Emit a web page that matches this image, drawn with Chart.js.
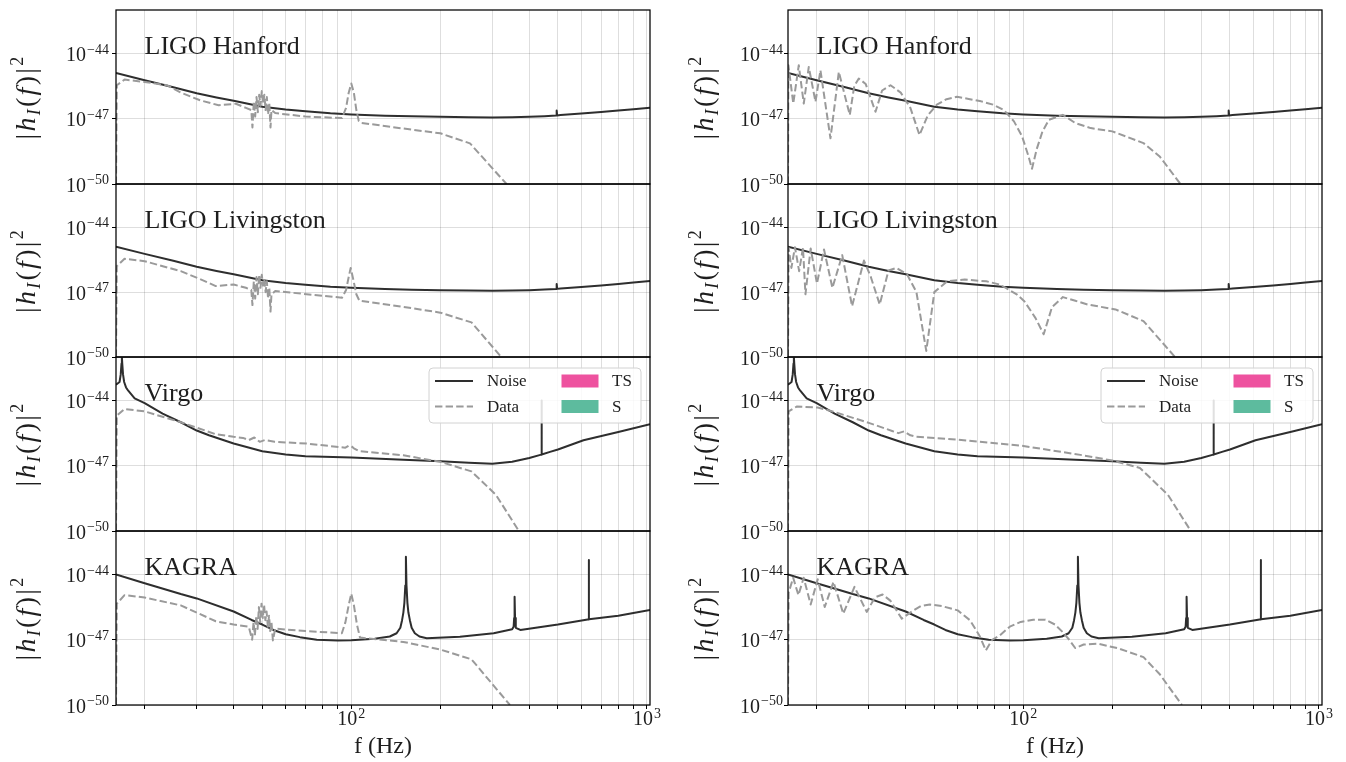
<!DOCTYPE html>
<html>
<head>
<meta charset="utf-8">
<title>Detector noise and data</title>
<script src="https://cdn.jsdelivr.net/npm/chart.js@4.4.1/dist/chart.umd.min.js"></script>
<style>
    body { margin: 0; background: #fff; width: 1346px; height: 762px; overflow: hidden; position: relative; }
    canvas { position: absolute; }
</style>
</head>
<body>
<script>
// axis ranges and ticks
const fMin = 16, fMax = 1024;
const yMinExp = -50, yMaxExp = -42;
const yTickExps = [-50, -47, -44];
const xTickFreqs = [20, 30, 40, 50, 60, 70, 80, 90, 100, 200, 300, 400, 500, 600, 700, 800, 900, 1000];
const detectors = ['LIGO Hanford', 'LIGO Livingston', 'Virgo', 'KAGRA'];
const legendLines = ['Noise', 'Data'];
const legendBoxes = ['TS', 'S'];

// noise curves (frequency in Hz, log10 |h|^2)
const ligoNoiseF = [16, 20, 25, 30, 35, 40, 50, 60, 70, 85, 100, 130, 160, 200, 250, 300, 350, 400, 450, 493, 495, 497, 510, 600, 700, 800, 900, 1024];
const ligoNoise = [-44.9, -45.23, -45.55, -45.83, -46.02, -46.17, -46.45, -46.58, -46.66, -46.75, -46.8, -46.86, -46.89, -46.91, -46.93, -46.94, -46.93, -46.91, -46.88, -46.85, -46.62, -46.85, -46.83, -46.76, -46.69, -46.62, -46.56, -46.49];

const virgoNoiseF = [16, 16.45, 16.6, 16.7, 16.75, 16.8, 16.9, 17.05, 17.3, 17.6, 18.5, 20, 23, 26.5, 30, 33, 40, 50, 60, 70, 100, 150, 200, 250, 300, 350, 400, 439, 440, 441, 470, 500, 610, 800, 1024];
const virgoNoise = [-43.27, -43.15, -42.8, -42.3, -42.0, -42.3, -42.8, -43.15, -43.4, -43.55, -43.9, -44.12, -44.6, -45.0, -45.38, -45.6, -45.98, -46.33, -46.48, -46.56, -46.62, -46.72, -46.79, -46.86, -46.91, -46.82, -46.64, -46.49, -44.0, -46.48, -46.36, -46.25, -45.83, -45.45, -45.09];

const kagraNoiseF = [16, 20, 26.5, 30, 40, 46, 50, 54.5, 60, 67, 76.4, 90, 100, 120, 135, 142.3, 146.5, 148.5, 150, 151.2, 152.3, 153, 153.7, 154.8, 156, 157.8, 160, 164, 170, 180, 233, 303, 350, 354, 355.5, 356.7, 358, 360, 373, 500, 630, 635.5, 636, 636.5, 800, 1024];
const kagraNoise = [-44.0, -44.4, -44.9, -45.1, -45.7, -46.09, -46.3, -46.55, -46.75, -46.88, -47.0, -47.03, -47.02, -46.95, -46.85, -46.7, -46.45, -46.1, -45.75, -45.3, -44.5, -43.18, -44.5, -45.3, -45.75, -46.1, -46.45, -46.7, -46.85, -46.93, -46.86, -46.7, -46.52, -46.4, -46.0, -45.02, -46.0, -46.45, -46.55, -46.3, -46.07, -46.07, -43.33, -46.06, -45.9, -45.63];

// data, left column
const h1DataF = [16, 16.1, 17.1, 20, 23.8, 26.5, 30.8, 35.6, 40.7, 44, 45.9, 46.3, 46.8, 47.3, 47.8, 48.3, 48.8, 49.3, 49.8, 50.3, 50.8, 51.3, 51.8, 52.3, 52.8, 53.3, 53.7, 55.3, 70, 93, 96, 98, 100, 102, 104, 106, 108, 150, 200, 252, 335];
const h1Data = [-50, -45.46, -45.2, -45.31, -45.46, -45.8, -46.15, -46.38, -46.31, -46.5, -46.6, -47.4, -46.2, -46.9, -46.0, -46.7, -45.9, -46.4, -45.73, -46.3, -45.9, -46.6, -46.0, -46.8, -46.3, -47.4, -46.6, -46.74, -46.9, -46.97, -46.5, -45.8, -45.38, -45.8, -46.6, -47.1, -47.19, -47.45, -47.67, -48.13, -50];

const l1DataF = [16, 16.1, 17.1, 20, 26.5, 30.8, 34.8, 40, 44, 45.9, 46.3, 46.8, 47.3, 47.8, 48.3, 48.8, 49.3, 49.8, 50.3, 50.8, 51.3, 51.8, 52.3, 52.8, 53.3, 53.7, 55.3, 93, 96, 98, 99.5, 101.5, 104, 106.5, 150, 200, 255, 321.5];
const l1Data = [-50, -45.8, -45.46, -45.57, -46.03, -46.4, -46.72, -46.65, -46.8, -46.9, -47.6, -46.5, -47.3, -46.3, -47.1, -46.2, -46.8, -46.2, -46.7, -46.4, -47.0, -46.5, -47.3, -46.8, -47.9, -47.1, -46.95, -47.26, -46.9, -46.3, -45.88, -46.4, -47.1, -47.4, -47.68, -47.95, -48.4, -50];

const v1DataF = [16, 16.1, 17.1, 20, 26.5, 34.8, 40, 43, 45, 47, 49, 51, 55, 70.7, 95.5, 98, 100, 102, 106.5, 150, 200, 255, 308.6, 368.6];
const v1Data = [-50, -44.7, -44.39, -44.5, -45.0, -45.55, -45.67, -45.72, -45.82, -45.7, -45.9, -45.82, -45.9, -45.98, -46.17, -46.08, -46.1, -46.2, -46.33, -46.52, -46.82, -47.26, -48.34, -50];

const k1DataF = [16, 16.1, 17.1, 20, 26.5, 34.8, 40, 45, 46.2, 46.7, 47.2, 47.7, 48.2, 48.7, 49.2, 49.7, 50.2, 50.7, 51.2, 51.7, 52.2, 52.7, 53.2, 53.7, 54.3, 55.3, 70, 92.9, 95.5, 98, 100, 102, 104.5, 107, 150, 200, 255, 344];
const k1Data = [-50, -45.34, -44.95, -45.06, -45.42, -46.15, -46.3, -46.4, -47.0, -46.2, -46.8, -45.9, -46.5, -45.5, -46.2, -45.34, -46.0, -45.4, -46.1, -45.7, -46.4, -45.9, -46.6, -46.2, -47.03, -46.49, -46.6, -46.7, -46.2, -45.4, -44.88, -45.4, -46.3, -46.9, -47.1, -47.45, -47.9, -50];

// data, right column
const h2DataF = [16, 16.05, 16.67, 17.4, 18.09, 18.81, 19.82, 20.6, 22.27, 23.77, 25.89, 26.8, 27.77, 29.3, 31.63, 33.3, 35.55, 38.5, 41.5, 44.55, 47.5, 51, 55, 59.7, 66, 72, 79, 86, 93, 99, 104, 107, 111, 116, 122, 136, 150, 169, 200, 255, 290, 340];
const h2Data = [-50, -44.54, -46.3, -44.54, -46.3, -44.62, -46.22, -44.77, -47.9, -44.85, -46.83, -45.5, -45.15, -45.4, -46.68, -45.7, -45.46, -45.8, -46.5, -47.75, -46.85, -46.35, -46.1, -45.99, -46.1, -46.2, -46.35, -46.6, -47.12, -47.8, -48.7, -49.3, -48.4, -47.6, -47.05, -46.82, -47.2, -47.43, -47.58, -48.12, -48.75, -50];

const l2DataF = [16, 16.08, 16.43, 16.89, 17.45, 17.98, 18.33, 19.09, 20.05, 21.18, 22.61, 24.41, 26.35, 28.91, 30.5, 32.68, 35, 37.26, 40.44, 43.5, 46.97, 50, 55.3, 63.4, 75, 83.3, 95, 100.8, 110, 117.2, 125, 136.1, 150, 164.8, 205, 255, 326];
const l2Data = [-50, -44.95, -45.88, -44.92, -46.03, -44.95, -47.1, -44.98, -46.6, -45.03, -46.8, -45.29, -47.65, -45.54, -46.3, -47.57, -46.0, -45.88, -46.18, -47.0, -49.72, -47.0, -46.5, -46.42, -46.5, -46.65, -47.1, -47.42, -48.2, -48.95, -47.7, -47.23, -47.4, -47.57, -47.8, -48.34, -50];

const v2DataF = [16, 16.08, 17.12, 20.16, 23.12, 30.36, 36, 37.8, 39.5, 41.5, 43.3, 60, 100, 156, 200, 248, 308.6, 368.6];
const v2Data = [-50, -44.5, -44.28, -44.32, -44.54, -45.05, -45.4, -45.5, -45.42, -45.6, -45.66, -45.8, -46.09, -46.5, -46.76, -47.1, -48.34, -50];

const k2DataF = [16, 16.08, 16.66, 17.35, 18.08, 19.09, 20.16, 21.3, 22.8, 24.61, 26.85, 29.54, 31.5, 33.41, 35.5, 38.81, 42, 45, 48.3, 53, 60, 66, 71, 74.7, 78.5, 83.3, 90, 98, 108, 118.8, 128, 136, 143, 149.8, 160, 178.8, 210, 255, 290, 344];
const k2Data = [-50, -44.83, -44.15, -44.95, -44.15, -45.38, -44.22, -45.49, -44.34, -45.8, -44.57, -45.72, -45.05, -44.92, -45.2, -46.03, -45.7, -45.45, -45.38, -45.45, -45.65, -46.1, -46.8, -47.49, -47.0, -46.8, -46.4, -46.18, -46.08, -46.08, -46.3, -46.65, -47.0, -47.38, -47.22, -47.18, -47.4, -47.8, -48.6, -50];

const noiseSeries = [[ligoNoiseF, ligoNoise], [ligoNoiseF, ligoNoise], [virgoNoiseF, virgoNoise], [kagraNoiseF, kagraNoise]];
const dataSeries = [
    [[h1DataF, h1Data], [l1DataF, l1Data], [v1DataF, v1Data], [k1DataF, k1Data]],
    [[h2DataF, h2Data], [l2DataF, l2Data], [v2DataF, v2Data], [k2DataF, k2Data]]
];

// look
const serif = "'Liberation Serif', 'DejaVu Serif', serif";
const noiseColor = '#2e2e2e';
const dataColor = '#9a9a9a';
const gridColor = 'rgba(0,0,0,0.13)';
const tsColor = '#ee529f';
const sColor = '#5dbb9e';
const textColor = '#1e1e1e';

// layout (page pixels)
const columnLeft = [116, 788];
const plotWidth = 534;
const panelTop = [10, 184, 357, 531];
const panelHeight = [174, 173, 174, 174];
const axisWidth = 116;
const tickGap = [7, 5];
const titleOffset = [81, 75];

Chart.defaults.font.family = serif;

function toPoints(f, e) {
    return f.map((x, i) => ({ x: x, y: Math.pow(10, e[i]) }));
}

// "10" with a raised exponent
function powerLabel(ctx, exp, x, y, align) {
    const sup = String(exp).replace('-', '\u2212');
    ctx.font = '20px ' + serif;
    const wb = ctx.measureText('10').width;
    ctx.font = '14px ' + serif;
    const ws = ctx.measureText(sup).width;
    const total = wb + 1 + ws;
    const x0 = align === 'right' ? x - total : x - total / 2;
    ctx.textAlign = 'left';
    ctx.textBaseline = 'alphabetic';
    ctx.font = '20px ' + serif;
    ctx.fillText('10', x0, y);
    ctx.font = '14px ' + serif;
    ctx.fillText(sup, x0 + wb + 1, y - 7.5);
}

// |h_I(f)|^2, rotated
function drawYTitle(ctx, x, y) {
    const parts = [
        ['|', 0, 28, false], ['h', 0, 28, true], ['I', 5, 18, true], ['(', 0, 28, false],
        ['f', 0, 28, true], [')', 0, 28, false], ['|', 0, 28, false], ['2', -12, 18, false]
    ];
    const gap = 2.3;
    ctx.save();
    ctx.translate(x, y);
    ctx.rotate(-Math.PI / 2);
    ctx.textAlign = 'left';
    ctx.textBaseline = 'alphabetic';
    let total = 0;
    parts.forEach(p => {
        ctx.font = (p[3] ? 'italic ' : '') + p[2] + 'px ' + serif;
        total += ctx.measureText(p[0]).width + gap;
    });
    let cx = -total / 2;
    parts.forEach(p => {
        ctx.font = (p[3] ? 'italic ' : '') + p[2] + 'px ' + serif;
        ctx.fillText(p[0], cx, p[1]);
        cx += ctx.measureText(p[0]).width + gap;
    });
    ctx.restore();
}

function drawLegend(ctx, a) {
    const x0 = a.left + 313, y0 = a.top + 11, w = 212, h = 55;
    ctx.fillStyle = 'rgba(255,255,255,0.85)';
    ctx.strokeStyle = '#d2d2d2';
    ctx.lineWidth = 1;
    ctx.beginPath();
    ctx.roundRect(x0, y0, w, h, 4);
    ctx.fill();
    ctx.stroke();

    const rows = [y0 + 13, y0 + 38.5];
    ctx.lineWidth = 2;
    ctx.strokeStyle = noiseColor;
    ctx.setLineDash([]);
    ctx.beginPath(); ctx.moveTo(x0 + 6, rows[0]); ctx.lineTo(x0 + 44, rows[0]); ctx.stroke();
    ctx.strokeStyle = dataColor;
    ctx.setLineDash([7.4, 3.2]);
    ctx.beginPath(); ctx.moveTo(x0 + 6, rows[1]); ctx.lineTo(x0 + 44, rows[1]); ctx.stroke();
    ctx.setLineDash([]);

    ctx.fillStyle = tsColor;
    ctx.fillRect(x0 + 132.5, rows[0] - 6.5, 37, 13);
    ctx.fillStyle = sColor;
    ctx.fillRect(x0 + 132.5, rows[1] - 6.5, 37, 13);

    ctx.fillStyle = textColor;
    ctx.font = '17px ' + serif;
    ctx.textAlign = 'left';
    ctx.textBaseline = 'middle';
    legendLines.forEach((t, i) => ctx.fillText(t, x0 + 58, rows[i] + 1));
    legendBoxes.forEach((t, i) => ctx.fillText(t, x0 + 183, rows[i] + 1));
}

function decor(col, row) {
    return {
        id: 'decor',
        afterDraw(chart) {
            const ctx = chart.ctx;
            const a = chart.chartArea;
            const xs = chart.scales.x, ys = chart.scales.y;
            ctx.save();
            ctx.strokeStyle = '#000';
            ctx.lineWidth = 1.25;
            ctx.strokeRect(a.left, a.top, a.right - a.left, a.bottom - a.top);

            ctx.fillStyle = textColor;
            ys.ticks.forEach(t => {
                const y = ys.getPixelForValue(t.value);
                powerLabel(ctx, Math.round(Math.log10(t.value)), a.left - tickGap[col], y + 7.5, 'right');
            });

            ctx.font = '26px ' + serif;
            ctx.textAlign = 'left';
            ctx.textBaseline = 'alphabetic';
            ctx.fillText(detectors[row], a.left + 28.5, a.top + 44);

            drawYTitle(ctx, a.left - titleOffset[col], (a.top + a.bottom) / 2);

            if (row === 2) drawLegend(ctx, a);

            if (row === 3) {
                ctx.fillStyle = textColor;
                xs.ticks.forEach(t => {
                    const e = Math.log10(t.value);
                    if (Math.abs(e - Math.round(e)) < 1e-9) {
                        powerLabel(ctx, Math.round(e), xs.getPixelForValue(t.value), a.bottom + 20, 'center');
                    }
                });
                ctx.font = '24px ' + serif;
                ctx.textAlign = 'center';
                ctx.textBaseline = 'alphabetic';
                ctx.fillText('f (Hz)', (a.left + a.right) / 2, a.bottom + 48);
            }
            ctx.restore();
        }
    };
}

function makePanel(col, row) {
    const canvas = document.createElement('canvas');
    const cTop = panelTop[row] - 10;
    const lastRow = row === 3;
    const cHeight = lastRow ? 762 - cTop : panelHeight[row] + 20;
    canvas.width = axisWidth + plotWidth + 20;
    canvas.height = cHeight;
    canvas.style.left = (columnLeft[col] - axisWidth) + 'px';
    canvas.style.top = cTop + 'px';
    document.body.appendChild(canvas);

    const noise = noiseSeries[row];
    const data = dataSeries[col][row];

    new Chart(canvas, {
        type: 'line',
        data: {
            datasets: [{
                label: 'Data',
                data: toPoints(data[0], data[1]),
                borderColor: dataColor,
                borderWidth: 2,
                borderDash: [7.4, 3.2],
                borderJoinStyle: 'round',
                pointRadius: 0,
                tension: 0
            }, {
                label: 'Noise',
                data: toPoints(noise[0], noise[1]),
                borderColor: noiseColor,
                borderWidth: 2,
                borderJoinStyle: 'round',
                pointRadius: 0,
                tension: 0
            }]
        },
        options: {
            responsive: false,
            animation: false,
            events: [],
            layout: { padding: { left: 0, right: 20, top: 10, bottom: 0 } },
            plugins: {
                legend: { display: false },
                tooltip: { enabled: false }
            },
            scales: {
                x: {
                    type: 'logarithmic',
                    min: fMin,
                    max: fMax,
                    afterBuildTicks: scale => { scale.ticks = xTickFreqs.map(v => ({ value: v })); },
                    afterFit: scale => { scale.height = cHeight - 10 - panelHeight[row]; },
                    ticks: { display: false },
                    grid: { color: gridColor, lineWidth: 1, drawTicks: lastRow, tickLength: 4, tickColor: '#000' },
                    border: { display: false }
                },
                y: {
                    type: 'logarithmic',
                    min: Math.pow(10, yMinExp),
                    max: Math.pow(10, yMaxExp),
                    afterBuildTicks: scale => { scale.ticks = yTickExps.map(e => ({ value: Math.pow(10, e) })); },
                    afterFit: scale => { scale.width = axisWidth; },
                    ticks: { display: false },
                    grid: { color: gridColor, lineWidth: 1, drawTicks: true, tickLength: 4, tickColor: '#000' },
                    border: { display: false }
                }
            }
        },
        plugins: [decor(col, row)]
    });
}

[0, 1].forEach(col => {
    [0, 1, 2, 3].forEach(row => makePanel(col, row));
});
</script>
</body>
</html>
